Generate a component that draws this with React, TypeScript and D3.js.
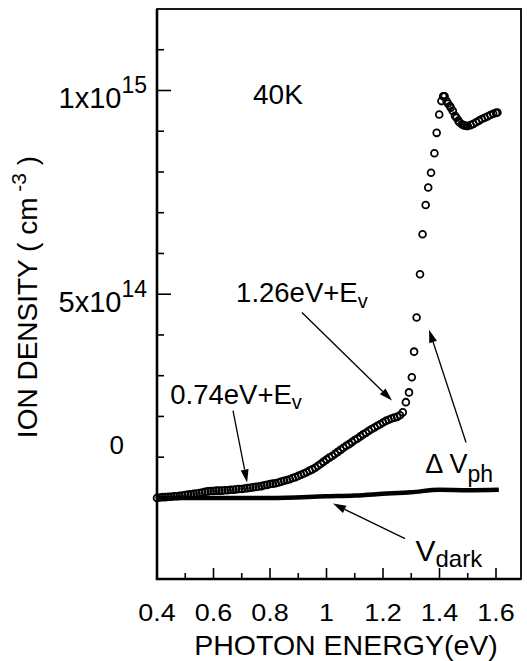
import { useEffect, useRef } from 'react'
import * as d3 from 'd3'

// photon energy (eV) / ion density (1e14 cm^-3)
const PH_E = [
  0.40, 0.41, 0.42, 0.43, 0.44, 0.45, 0.46, 0.47, 0.48, 0.49,
  0.50, 0.51, 0.52, 0.53, 0.54, 0.55, 0.56, 0.57, 0.58, 0.59,
  0.60, 0.61, 0.62, 0.63, 0.64, 0.65, 0.66, 0.67, 0.68, 0.69,
  0.70, 0.71, 0.72, 0.73, 0.74, 0.75, 0.76, 0.77, 0.78, 0.79,
  0.80, 0.81, 0.82, 0.83, 0.84, 0.85, 0.86, 0.87, 0.88, 0.89,
  0.90, 0.91, 0.92, 0.93, 0.94, 0.95, 0.96, 0.97, 0.98, 0.99,
  1.00, 1.01, 1.02, 1.03, 1.04, 1.05, 1.06, 1.07, 1.08, 1.09,
  1.10, 1.11, 1.12, 1.13, 1.14, 1.15, 1.16, 1.17, 1.18, 1.19,
  1.20, 1.21, 1.22, 1.23, 1.24, 1.25, 1.26, 1.27,
  1.281, 1.292, 1.302, 1.310, 1.319, 1.331, 1.340, 1.351, 1.360, 1.370,
  1.382, 1.390, 1.399, 1.407, 1.413, 1.418, 1.425, 1.430, 1.437, 1.440,
  1.447, 1.455, 1.460, 1.467, 1.470, 1.479, 1.485, 1.490, 1.496,
  1.50, 1.51, 1.52, 1.53, 1.54, 1.55, 1.56, 1.57, 1.58, 1.59, 1.60, 1.605,
]
const PH_N = [
  0.00, 0.01, 0.02, 0.02, 0.03, 0.03, 0.04, 0.04, 0.05, 0.06,
  0.07, 0.08, 0.09, 0.10, 0.11, 0.12, 0.13, 0.15, 0.16, 0.17,
  0.17, 0.18, 0.18, 0.18, 0.19, 0.19, 0.20, 0.20, 0.21, 0.22,
  0.22, 0.23, 0.24, 0.25, 0.26, 0.27, 0.28, 0.29, 0.31, 0.32,
  0.34, 0.35, 0.36, 0.38, 0.40, 0.42, 0.44, 0.46, 0.49, 0.51,
  0.54, 0.57, 0.60, 0.63, 0.67, 0.70, 0.74, 0.79, 0.84, 0.89,
  0.94, 0.99, 1.03, 1.08, 1.13, 1.18, 1.23, 1.28, 1.32, 1.37,
  1.42, 1.46, 1.51, 1.56, 1.60, 1.65, 1.69, 1.73, 1.77, 1.81,
  1.85, 1.89, 1.92, 1.95, 1.97, 1.99, 2.03, 2.10,
  2.35, 2.59, 2.96, 3.59, 4.43, 5.49, 6.47, 7.19, 7.62, 7.98,
  8.46, 8.96, 9.41, 9.74, 9.86, 9.86, 9.74, 9.68, 9.62, 9.58,
  9.50, 9.38, 9.33, 9.26, 9.22, 9.17, 9.15, 9.14, 9.13,
  9.13, 9.15, 9.18, 9.22, 9.26, 9.30, 9.33, 9.36, 9.40, 9.43, 9.45, 9.46,
]

// dark signal line
const DARK_E = [0.40, 0.60, 0.80, 1.00, 1.10, 1.20, 1.30, 1.40, 1.50, 1.61]
const DARK_N = [0.00, 0.00, 0.00, 0.04, 0.06, 0.10, 0.14, 0.20, 0.19, 0.20]

const X_MAJOR = [0.4, 0.6, 0.8, 1.0, 1.2, 1.4, 1.6]
const X_MINOR = [0.5, 0.7, 0.9, 1.1, 1.3, 1.5]
const X_LABELS = ['0.4', '0.6', '0.8', '1', '1.2', '1.4', '1.6']
const Y_MAJOR = [5, 10]
const Y_MINOR = [1, 2, 3, 4, 6, 7, 8, 9, 11]
// tick label: value where drawn, mantissa, exponent
const Y_LABEL_AT = [10, 5, 1.55]
const Y_LABEL_MAIN = ['1x10', '5x10', '0']
const Y_LABEL_SUP = ['15', '14', '']

const FONT = '"Liberation Sans", Arial, Helvetica, sans-serif'

export default function App() {
  const svgRef = useRef<SVGSVGElement>(null)

  useEffect(() => {
    if (!svgRef.current) return
    const svg = d3.select(svgRef.current)
    svg.selectAll('*').remove()

    const W = 527, H = 661
    const left = 157, right = 521, top = 9, bottom = 579

    const x = d3.scaleLinear().domain([0.4, 1.6885]).range([left, right])
    const y = d3.scaleLinear().domain([-1.99, 12.0]).range([bottom, top])

    svg.append('rect').attr('width', W).attr('height', H).attr('fill', '#fff')

    // frame
    svg.append('rect')
      .attr('x', left).attr('y', top).attr('width', right - left).attr('height', bottom - top)
      .attr('fill', 'none').attr('stroke', '#000').attr('stroke-width', 1.8)
    svg.append('path')
      .attr('d', `M${left},${top}V${bottom}H${right}`)
      .attr('fill', 'none').attr('stroke', '#000').attr('stroke-width', 2.6)

    // x ticks (inward)
    X_MAJOR.forEach(v => {
      svg.append('line').attr('x1', x(v)).attr('x2', x(v)).attr('y1', bottom).attr('y2', bottom - 11)
        .attr('stroke', '#000').attr('stroke-width', 1.6)
    })
    X_MINOR.forEach(v => {
      svg.append('line').attr('x1', x(v)).attr('x2', x(v)).attr('y1', bottom).attr('y2', bottom - 6)
        .attr('stroke', '#000').attr('stroke-width', 1.6)
    })
    X_MAJOR.forEach((v, i) => {
      svg.append('text').attr('transform', `translate(${x(v)},621) scale(1.1,1)`)
        .attr('text-anchor', 'middle').attr('font-family', FONT).attr('font-size', 24.5)
        .text(X_LABELS[i])
    })

    // y ticks (inward)
    Y_MAJOR.forEach(v => {
      svg.append('line').attr('x1', left).attr('x2', left + 14).attr('y1', y(v)).attr('y2', y(v))
        .attr('stroke', '#000').attr('stroke-width', 1.6)
    })
    Y_MINOR.forEach(v => {
      svg.append('line').attr('x1', left).attr('x2', left + 7).attr('y1', y(v)).attr('y2', y(v))
        .attr('stroke', '#000').attr('stroke-width', 1.6)
    })
    Y_LABEL_AT.forEach((v, i) => {
      const sup = Y_LABEL_SUP[i]
      const t = svg.append('text')
        .attr('x', sup ? left - 10 : left - 33).attr('y', y(v) + (sup ? 17.5 : 19))
        .attr('text-anchor', 'end').attr('font-family', FONT).attr('font-size', sup ? 29 : 26)
      t.append('tspan').text(Y_LABEL_MAIN[i])
      if (sup) t.append('tspan').attr('font-size', 23).attr('dy', -15).text(sup)
    })

    // axis titles
    svg.append('text')
      .attr('x', 346).attr('y', 655)
      .attr('text-anchor', 'middle').attr('font-family', FONT).attr('font-size', 28.5)
      .text('PHOTON ENERGY(eV)')
    const yt = svg.append('text')
      .attr('transform', `translate(37,297) rotate(-90)`)
      .attr('text-anchor', 'middle').attr('font-family', FONT).attr('font-size', 28)
    yt.append('tspan').text('ION DENSITY  ( cm')
    yt.append('tspan').attr('font-size', 21).attr('dy', -11).text(' -3')
    yt.append('tspan').attr('dy', 11).text(' )')

    // dark line
    const darkPts = DARK_E.map((e, i) => [e, DARK_N[i]] as [number, number])
    svg.append('path')
      .attr('d', d3.line<[number, number]>().x(d => x(d[0])).y(d => y(d[1])).curve(d3.curveMonotoneX)(darkPts))
      .attr('fill', 'none').attr('stroke', '#000').attr('stroke-width', 4.5)

    // photo signal points
    svg.append('g').selectAll('circle')
      .data(PH_E.map((e, i) => [e, PH_N[i]]))
      .join('circle')
      .attr('cx', d => x(d[0])).attr('cy', d => y(d[1]))
      .attr('r', 3.4)
      .attr('fill', 'none').attr('stroke', '#000').attr('stroke-width', 1.8)

    // annotations
    const txt = (ex: number, ny: number, main: string, sub: string, size: number, subSize: number, dy: number) => {
      const t = svg.append('text').attr('x', x(ex)).attr('y', y(ny))
        .attr('font-family', FONT).attr('font-size', size)
      t.append('tspan').text(main)
      if (sub) t.append('tspan').attr('font-size', subSize).attr('dy', dy).text(sub)
    }
    const arrow = (e0: number, n0: number, e1: number, n1: number) => {
      const x0 = x(e0), y0 = y(n0), x1 = x(e1), y1 = y(n1)
      const a = Math.atan2(y1 - y0, x1 - x0)
      const L = 13, Wd = 4
      const bx = x1 - L * Math.cos(a), by = y1 - L * Math.sin(a)
      svg.append('line').attr('x1', x0).attr('y1', y0).attr('x2', bx).attr('y2', by)
        .attr('stroke', '#000').attr('stroke-width', 1.3)
      svg.append('polygon')
        .attr('points', [
          [x1, y1],
          [bx + Wd * Math.sin(a), by - Wd * Math.cos(a)],
          [bx - Wd * Math.sin(a), by + Wd * Math.cos(a)],
        ].map(p => p.join(',')).join(' '))
        .attr('fill', '#000')
    }

    txt(0.74, 9.67, '40K', '', 28, 0, 0)
    txt(0.68, 4.8, '1.26eV+E', 'v', 27.5, 20, 6)
    txt(0.447, 2.31, '0.74eV+E', 'v', 27.5, 20, 5)
    txt(1.35, 0.6, 'Δ V', 'ph', 27, 23, 9)
    txt(1.315, -1.55, 'V', 'dark', 30, 24, 6)

    arrow(0.913, 4.55, 1.232, 2.39)
    arrow(0.669, 2.14, 0.719, 0.38)
    arrow(1.494, 1.36, 1.363, 4.13)
    arrow(1.278, -1.0, 1.023, -0.14)
  }, [])

  return (
    <div style={{ position: 'absolute', left: 0, top: 0 }}>
      <svg ref={svgRef} width={527} height={661} style={{ display: 'block' }} />
    </div>
  )
}
